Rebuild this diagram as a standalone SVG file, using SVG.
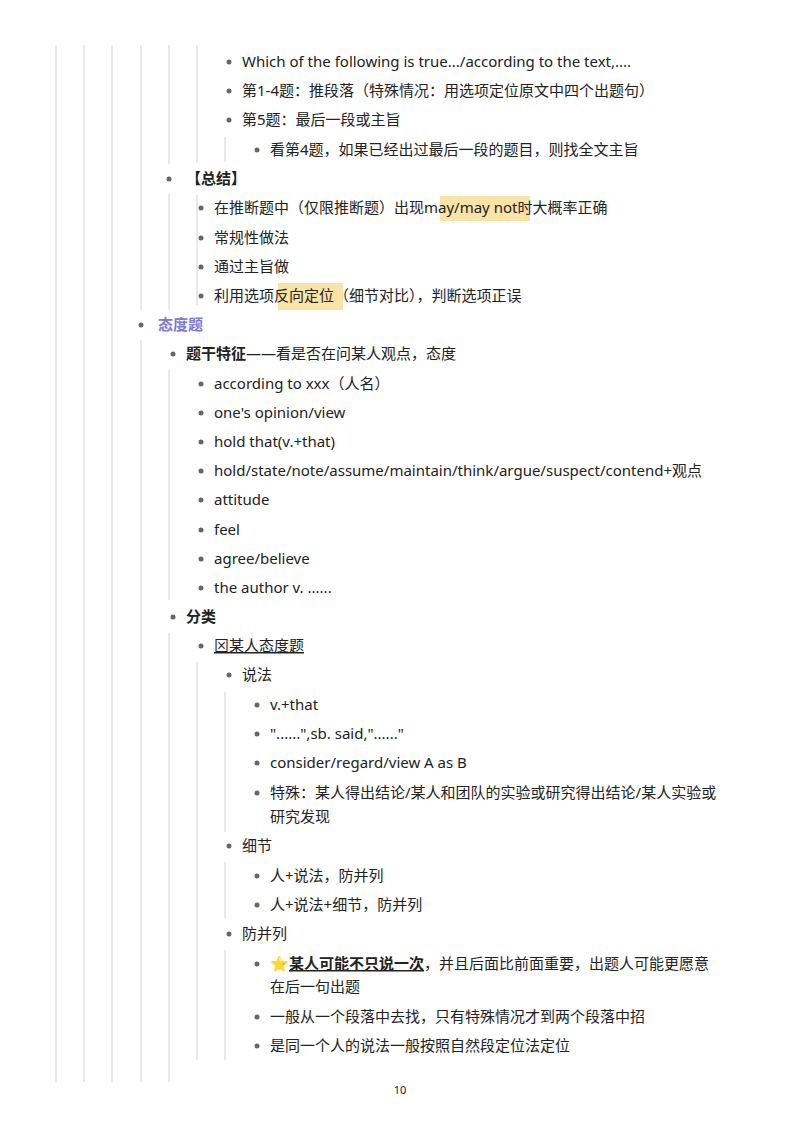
<svg xmlns="http://www.w3.org/2000/svg" width="800" height="1132" viewBox="0 0 800 1132">
<style>
text{font-family:"Noto Sans","Noto Sans CJK SC",sans-serif;font-size:15px;fill:#222}
.b{font-weight:bold}
.g line{stroke:#e2e2e2;stroke-width:1.5}
circle{fill:#666}
.hl{fill:#f9e3a6}
</style>
<rect width="800" height="1132" fill="#fff"/>
<g class="g" id="connectors">
<line x1="56" y1="45" x2="56" y2="1082"/><line x1="84" y1="45" x2="84" y2="1082"/><line x1="112" y1="45" x2="112" y2="1082"/>
<line x1="141" y1="45" x2="141" y2="310"/><line x1="141" y1="340" x2="141" y2="1082"/>
<line x1="169" y1="45" x2="169" y2="164"/><line x1="169" y1="194" x2="169" y2="310"/><line x1="169" y1="370" x2="169" y2="600"/><line x1="169" y1="633" x2="169" y2="1082"/>
<line x1="197" y1="45" x2="197" y2="163"/><line x1="197" y1="195" x2="197" y2="305"/><line x1="197" y1="662" x2="197" y2="1060"/>
<line x1="225" y1="137" x2="225" y2="162"/><line x1="225" y1="692" x2="225" y2="832"/><line x1="225" y1="862" x2="225" y2="918"/><line x1="225" y1="950" x2="225" y2="1060"/>
</g>
<rect class="hl" x="440" y="196" width="90" height="25"/>
<rect class="hl" x="278" y="283" width="65" height="27"/>
<g id="n1"><circle cx="229" cy="62" r="2.5"/><text x="242" y="67">Which of the following is true.../according to the text,....</text></g>
<g id="n2"><circle cx="229" cy="91" r="2.5"/><text x="242" y="96">第1-4题：推段落（特殊情况：用选项定位原文中四个出题句）</text></g>
<g id="n3"><circle cx="229" cy="120" r="2.5"/><text x="242" y="125">第5题：最后一段或主旨</text></g>
<g id="n4"><circle cx="257" cy="150" r="2.5"/><text x="270" y="155">看第4题，如果已经出过最后一段的题目，则找全文主旨</text></g>
<g id="n5"><circle cx="169" cy="179" r="2.5"/><text x="186" y="184" class="b">【总结】</text></g>
<g id="n6"><circle cx="201" cy="208" r="2.5"/><text x="214" y="213">在推断题中（仅限推断题）出现may/may not时大概率正确</text></g>
<g id="n7"><circle cx="201" cy="238" r="2.5"/><text x="214" y="243">常规性做法</text></g>
<g id="n8"><circle cx="201" cy="267" r="2.5"/><text x="214" y="272">通过主旨做</text></g>
<g id="n9"><circle cx="201" cy="296" r="2.5"/><text x="214" y="301">利用选项反向定位（细节对比），判断选项正误</text></g>
<g id="n10"><circle cx="141" cy="325" r="2.5"/><text x="158" y="330" class="b" style="fill:#7b7bd4">态度题</text></g>
<g id="n11"><circle cx="173" cy="354" r="2.5"/><text x="186" y="359"><tspan class="b">题干特征</tspan>——看是否在问某人观点，态度</text></g>
<g id="n12"><circle cx="201" cy="384" r="2.5"/><text x="214" y="389">according to xxx（人名）</text></g>
<g id="n13"><circle cx="201" cy="413" r="2.5"/><text x="214" y="418">one's opinion/view</text></g>
<g id="n14"><circle cx="201" cy="442" r="2.5"/><text x="214" y="447">hold that(v.+that)</text></g>
<g id="n15"><circle cx="201" cy="471" r="2.5"/><text x="214" y="476">hold/state/note/assume/maintain/think/argue/suspect/contend+观点</text></g>
<g id="n16"><circle cx="201" cy="500" r="2.5"/><text x="214" y="505">attitude</text></g>
<g id="n17"><circle cx="201" cy="530" r="2.5"/><text x="214" y="535">feel</text></g>
<g id="n18"><circle cx="201" cy="559" r="2.5"/><text x="214" y="564">agree/believe</text></g>
<g id="n19"><circle cx="201" cy="588" r="2.5"/><text x="214" y="593">the author v. ......</text></g>
<g id="n20"><circle cx="173" cy="617" r="2.5"/><text x="186" y="622" class="b">分类</text></g>
<g id="n21"><circle cx="201" cy="646" r="2.5"/><text x="214" y="651" text-decoration="underline">⊠某人态度题</text></g>
<g id="n22"><circle cx="229" cy="675" r="2.5"/><text x="242" y="680">说法</text></g>
<g id="n23"><circle cx="257" cy="705" r="2.5"/><text x="270" y="710">v.+that</text></g>
<g id="n24"><circle cx="257" cy="734" r="2.5"/><text x="270" y="739">"......",sb. said,"......"</text></g>
<g id="n25"><circle cx="257" cy="763" r="2.5"/><text x="270" y="768">consider/regard/view A as B</text></g>
<g id="n26"><circle cx="257" cy="793" r="2.5"/><text x="270" y="798">特殊：某人得出结论/某人和团队的实验或研究得出结论/某人实验或</text><text x="270" y="822">研究发现</text></g>
<g id="n27"><circle cx="229" cy="846" r="2.5"/><text x="242" y="851">细节</text></g>
<g id="n28"><circle cx="257" cy="876" r="2.5"/><text x="270" y="881">人+说法，防并列</text></g>
<g id="n29"><circle cx="257" cy="905" r="2.5"/><text x="270" y="910">人+说法+细节，防并列</text></g>
<g id="n30"><circle cx="229" cy="934" r="2.5"/><text x="242" y="939">防并列</text></g>
<g id="n31"><circle cx="257" cy="964" r="2.5"/><text x="270" y="969">⭐<tspan class="b" text-decoration="underline">某人可能不只说一次</tspan>，并且后面比前面重要，出题人可能更愿意</text><text x="270" y="992">在后一句出题</text></g>
<g id="n32"><circle cx="257" cy="1017" r="2.5"/><text x="270" y="1022">一般从一个段落中去找，只有特殊情况才到两个段落中招</text></g>
<g id="n33"><circle cx="257" cy="1046" r="2.5"/><text x="270" y="1051">是同一个人的说法一般按照自然段定位法定位</text></g>
<text x="400" y="1094" text-anchor="middle" style="font-size:11px">10</text>
</svg>
